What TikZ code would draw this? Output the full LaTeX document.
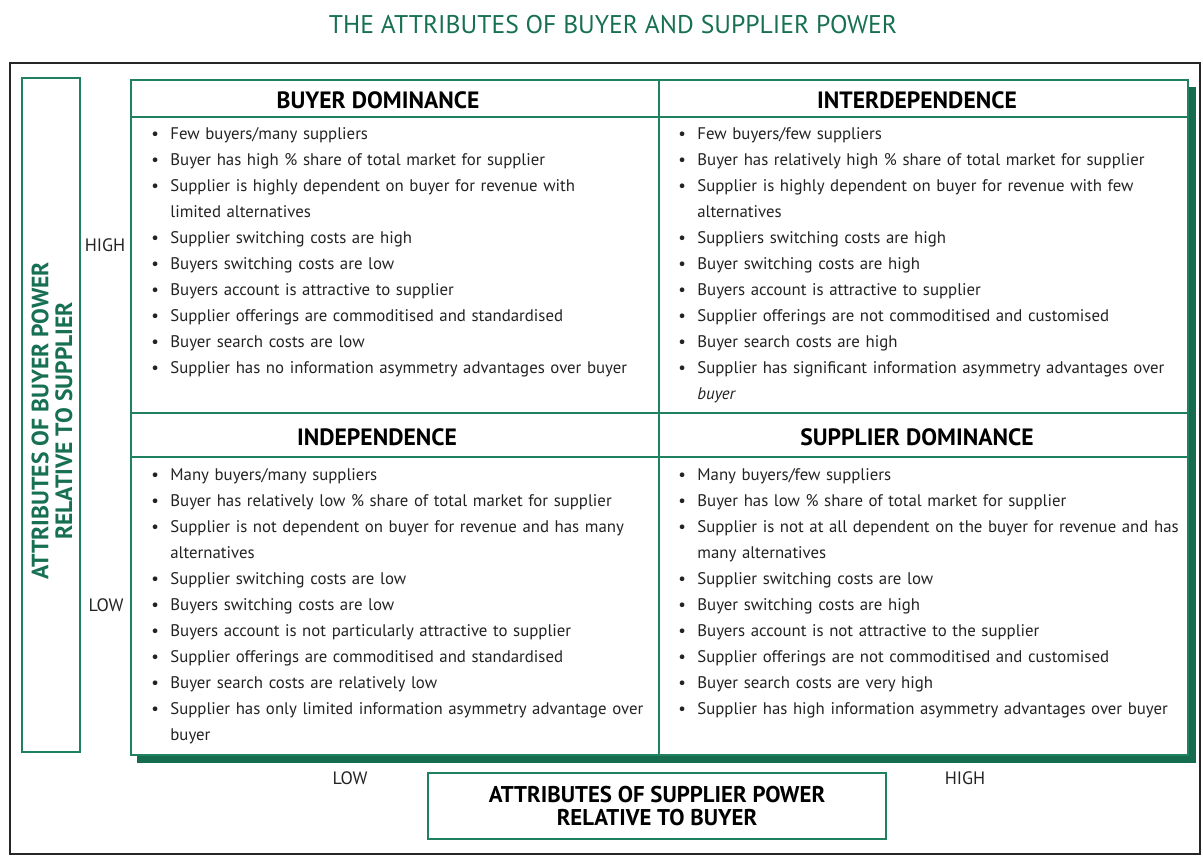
\documentclass[tikz,border=0pt]{standalone}
\usepackage{fontspec}
\setmainfont{PT Sans}
\usetikzlibrary{positioning, calc}
\definecolor{BoxGreen}{RGB}{32,128,98}
\definecolor{DarkGreen}{RGB}{22,108,78}
\definecolor{TitleGreen}{RGB}{24,112,84}
\definecolor{TextGray}{RGB}{35,35,35}
\newcommand{\itm}{\par\hangindent=9.5pt\hangafter=1\noindent\makebox[9.5pt][l]{\textbullet}}

\begin{document}
\begin{tikzpicture}[x=0.5pt,y=-0.5pt,
    title/.style={text=TitleGreen, font=\fontsize{12.8pt}{15pt}\selectfont},
    head/.style={text=black, font=\fontsize{11.8pt}{14pt}\selectfont\bfseries},
    axis/.style={text=TextGray, font=\fontsize{9pt}{11pt}\selectfont},
    cell/.style={anchor=base west, inner sep=0pt, text width=275pt, align=left, text=TextGray,
        font=\fontsize{8.4pt}{13pt}\selectfont},
    grid/.style={BoxGreen, line width=0.8pt}]
    \useasboundingbox (0,0) rectangle (1203,857);
    % outer frame and title
    \draw[line width=1pt, black!85] (10,63) rectangle (1200,854);
    \node[title] (title) at (613,25) {THE ATTRIBUTES OF BUYER AND SUPPLIER POWER};
    % buyer power axis
    \node[draw=BoxGreen, line width=0.8pt, rotate=90, minimum width=337pt, minimum height=29pt]
        (buyerpower) at (51,415) {};
    \node[rotate=90, align=center, text=TitleGreen, font=\fontsize{11.8pt}{11.8pt}\selectfont\bfseries]
        (buyerlabel) at (52,421) {ATTRIBUTES OF BUYER POWER\\RELATIVE TO SUPPLIER};
    \node[axis] (bhigh) at (105,245) {HIGH};
    \node[axis] (blow) at (106,605) {LOW};
    % matrix with its shadow
    \fill[DarkGreen] (137,87) rectangle (1196,763);
    \filldraw[grid, fill=white] (131,80) rectangle (1188,755);
    \draw[grid] (131,117) -- (1188,117) (131,413) -- (1188,413) (131,457) -- (1188,457) (659,80) -- (659,755);
    \node[head] (bdom) at (378,100) {BUYER DOMINANCE};
    \node[head] (inter) at (917,100) {INTERDEPENDENCE};
    \node[head] (indep) at (377,437) {INDEPENDENCE};
    \node[head] (sdom) at (917,437) {SUPPLIER DOMINANCE};
    \node[cell] (bdomlist) at (151,113) {%
        \itm Few buyers/many suppliers
        \itm Buyer has high \% share of total market for supplier
        \itm Supplier is highly dependent on buyer for revenue with\newline limited alternatives
        \itm Supplier switching costs are high
        \itm Buyers switching costs are low
        \itm Buyers account is attractive to supplier
        \itm Supplier offerings are commoditised and standardised
        \itm Buyer search costs are low
        \itm Supplier has no information asymmetry advantages over buyer\par};
    \node[cell] (interlist) at (678,113) {%
        \itm Few buyers/few suppliers
        \itm Buyer has relatively high \% share of total market for supplier
        \itm Supplier is highly dependent on buyer for revenue with few\newline alternatives
        \itm Suppliers switching costs are high
        \itm Buyer switching costs are high
        \itm Buyers account is attractive to supplier
        \itm Supplier offerings are not commoditised and customised
        \itm Buyer search costs are high
        \itm Supplier has significant information asymmetry advantages over\newline \textit{buyer}\par};
    \node[cell] (indeplist) at (151,454) {%
        \itm Many buyers/many suppliers
        \itm Buyer has relatively low \% share of total market for supplier
        \itm Supplier is not dependent on buyer for revenue and has many\newline alternatives
        \itm Supplier switching costs are low
        \itm Buyers switching costs are low
        \itm Buyers account is not particularly attractive to supplier
        \itm Supplier offerings are commoditised and standardised
        \itm Buyer search costs are relatively low
        \itm Supplier has only limited information asymmetry advantage over\newline buyer\par};
    \node[cell] (sdomlist) at (678,454) {%
        \itm Many buyers/few suppliers
        \itm Buyer has low \% share of total market for supplier
        \itm Supplier is not at all dependent on the buyer for revenue and has\newline many alternatives
        \itm Supplier switching costs are low
        \itm Buyer switching costs are high
        \itm Buyers account is not attractive to the supplier
        \itm Supplier offerings are not commoditised and customised
        \itm Buyer search costs are very high
        \itm Supplier has high information asymmetry advantages over buyer\par};
    % supplier power axis
    \node[axis] (slow) at (350,778) {LOW};
    \node[axis] (shigh) at (965,778) {HIGH};
    \node[draw=BoxGreen, line width=0.8pt, minimum width=229pt, minimum height=33pt, align=center,
        text=black, font=\fontsize{11.4pt}{11.5pt}\selectfont\bfseries]
        (supplierpower) at (657,806) {ATTRIBUTES OF SUPPLIER POWER\\RELATIVE TO BUYER};
\end{tikzpicture}
\end{document}
